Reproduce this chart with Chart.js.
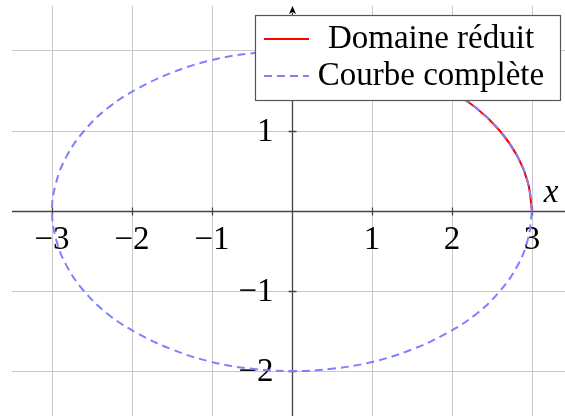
<!DOCTYPE html>
<html>
<head>
<meta charset="utf-8">
<script src="https://cdn.jsdelivr.net/npm/chart.js@4"></script>
<style>
  html, body { margin: 0; padding: 0; background: #fff; }
  #wrap { width: 565px; height: 416px; position: relative; }
  .preload { position: absolute; left: -9999px; top: 0; font-size: 33px; }
</style>
</head>
<body>
<div id="wrap"><canvas id="ellipseChart" width="565" height="416"></canvas></div>
<span class="preload" style="font-family: 'Liberation Serif'">Domaine réduit</span>
<span class="preload" style="font-family: 'Liberation Serif'; font-style: italic">x</span>
<script>
// ellipse, one point every 10 degrees, going round once
const fullX = [3, 2.95, 2.82, 2.60, 2.30, 1.93, 1.50, 1.03, 0.52, 0,
  -0.52, -1.03, -1.50, -1.93, -2.30, -2.60, -2.82, -2.95, -3,
  -2.95, -2.82, -2.60, -2.30, -1.93, -1.50, -1.03, -0.52, 0,
  0.52, 1.03, 1.50, 1.93, 2.30, 2.60, 2.82, 2.95, 3];
const fullY = [0, 0.35, 0.68, 1.00, 1.29, 1.53, 1.73, 1.88, 1.97, 2,
  1.97, 1.88, 1.73, 1.53, 1.29, 1.00, 0.68, 0.35, 0,
  -0.35, -0.68, -1.00, -1.29, -1.53, -1.73, -1.88, -1.97, -2,
  -1.97, -1.88, -1.73, -1.53, -1.29, -1.00, -0.68, -0.35, 0];

// first quarter only
const reducedX = [3, 2.95, 2.82, 2.60, 2.30, 1.93, 1.50, 1.03, 0.52, 0];
const reducedY = [0, 0.35, 0.68, 1.00, 1.29, 1.53, 1.73, 1.88, 1.97, 2];

const xTicks = [-3, -2, -1, 1, 2, 3];
const yTicks = [-2, -1, 1, 2];
const seriesLabels = ['Domaine réduit', 'Courbe complète'];

const serif = "'Liberation Serif', serif";
const fontSize = 33;
const axisColor = '#444444';

const toPoints = (xs, ys) => xs.map((v, i) => ({ x: v, y: ys[i] }));
const fmt = (v) => (v < 0 ? '\u2212' + Math.abs(v) : String(v));

// axis lines through the origin, ticks, labels
const axesPlugin = {
  id: 'axes',
  beforeDatasetsDraw(chart) {
    const { ctx, chartArea: a, scales: { x, y } } = chart;
    const x0 = Math.round(x.getPixelForValue(0)) + 0.5;
    const y0 = Math.round(y.getPixelForValue(0)) + 0.5;
    ctx.save();
    ctx.strokeStyle = axisColor;
    ctx.lineWidth = 1.3;

    ctx.beginPath();
    ctx.moveTo(a.left, y0);
    ctx.lineTo(chart.width, y0);
    ctx.moveTo(x0, a.top + 7);
    ctx.lineTo(x0, a.bottom);
    ctx.stroke();

    // arrow head on the vertical axis
    ctx.fillStyle = '#000';
    ctx.beginPath();
    ctx.moveTo(x0, a.top);
    ctx.lineTo(x0 - 3.5, a.top + 8);
    ctx.lineTo(x0, a.top + 6);
    ctx.lineTo(x0 + 3.5, a.top + 8);
    ctx.closePath();
    ctx.fill();

    ctx.beginPath();
    xTicks.forEach((v) => {
      const px = Math.round(x.getPixelForValue(v)) + 0.5;
      ctx.moveTo(px, y0 - 4);
      ctx.lineTo(px, y0 + 4);
    });
    yTicks.forEach((v) => {
      const py = Math.round(y.getPixelForValue(v)) + 0.5;
      ctx.moveTo(x0 - 4, py);
      ctx.lineTo(x0 + 4, py);
    });
    ctx.stroke();

    ctx.fillStyle = '#000';
    ctx.font = fontSize + 'px ' + serif;
    ctx.textAlign = 'center';
    ctx.textBaseline = 'alphabetic';
    xTicks.forEach((v) => {
      ctx.fillText(fmt(v), x.getPixelForValue(v), y0 + 37);
    });
    ctx.textAlign = 'right';
    yTicks.forEach((v) => {
      ctx.fillText(fmt(v), x0 - 19, y.getPixelForValue(v) + 10);
    });

    ctx.font = 'italic ' + fontSize + 'px ' + serif;
    ctx.textAlign = 'center';
    ctx.fillText('x', a.right - 14, y0 - 10);
    ctx.restore();
  }
};

// boxed legend in the upper right corner
const legendPlugin = {
  id: 'boxLegend',
  afterDraw(chart) {
    const { ctx, chartArea: a } = chart;
    const right = a.right - 5;
    const left = right - 305;
    const top = a.top + 9;
    const h = 85;
    ctx.save();
    ctx.fillStyle = '#fff';
    ctx.fillRect(left, top, right - left, h);
    ctx.strokeStyle = '#555';
    ctx.lineWidth = 1.2;
    ctx.strokeRect(left + 0.5, top + 0.5, right - left, h);

    ctx.font = fontSize + 'px ' + serif;
    ctx.textAlign = 'center';
    ctx.textBaseline = 'alphabetic';
    chart.data.datasets.forEach((ds, i) => {
      const cy = top + 24 + i * 37;
      ctx.strokeStyle = ds.borderColor;
      ctx.lineWidth = ds.borderWidth;
      ctx.setLineDash(ds.borderDash || []);
      ctx.beginPath();
      ctx.moveTo(left + 9, cy);
      ctx.lineTo(left + 54, cy);
      ctx.stroke();
      ctx.setLineDash([]);
      ctx.fillStyle = '#000';
      ctx.fillText(ds.label, left + 176, cy + 9);
    });
    ctx.restore();
  }
};

const zeroSize = (scale) => {
  if (scale.isHorizontal()) scale.height = 0; else scale.width = 0;
};

function drawChart() {
  new Chart(document.getElementById('ellipseChart'), {
    type: 'scatter',
    data: {
      datasets: [{
        label: seriesLabels[0],
        data: toPoints(reducedX, reducedY),
        showLine: true,
        borderColor: '#ff0000',
        borderWidth: 2,
        tension: 0.4,
        pointRadius: 0,
        order: 1
      }, {
        label: seriesLabels[1],
        data: toPoints(fullX, fullY),
        showLine: true,
        borderColor: '#8080ff',
        borderWidth: 2,
        borderDash: [8, 5],
        tension: 0.4,
        pointRadius: 0,
        order: 0
      }]
    },
    options: {
      responsive: false,
      animation: false,
      devicePixelRatio: 1,
      layout: { padding: { left: 12, top: 6, right: 0, bottom: 0 } },
      plugins: { legend: { display: false }, tooltip: { enabled: false } },
      scales: {
        x: {
          type: 'linear',
          min: -3.5,
          max: 3.4125,
          afterFit: zeroSize,
          border: { display: false },
          grid: { color: '#c8c8c8', lineWidth: 1, drawTicks: false },
          ticks: { display: false, stepSize: 1, includeBounds: false }
        },
        y: {
          type: 'linear',
          min: -2.5625,
          max: 2.5625,
          afterFit: zeroSize,
          border: { display: false },
          grid: { color: '#c8c8c8', lineWidth: 1, drawTicks: false },
          ticks: { display: false, stepSize: 1, includeBounds: false }
        }
      }
    },
    plugins: [axesPlugin, legendPlugin]
  });
}

Promise.all([
  document.fonts.load(fontSize + "px 'Liberation Serif'"),
  document.fonts.load("italic " + fontSize + "px 'Liberation Serif'")
]).then(drawChart, drawChart);
</script>
</body>
</html>
